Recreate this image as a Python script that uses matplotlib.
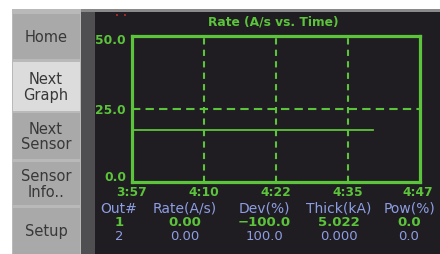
import matplotlib
matplotlib.use("Agg")
import matplotlib.pyplot as plt
from matplotlib.patches import Rectangle

# ---- data ----
title = "Rate (A/s vs. Time)"
t_start, t_end = 237, 287          # seconds (3:57 .. 4:47)
x_tick_labels = ["3:57", "4:10", "4:22", "4:35", "4:47"]
y_ticks = [0.0, 25.0, 50.0]
rate_time = [237, 278.8]
rate_vals = [17.8, 17.8]

buttons = ["Home", "Next\nGraph", "Next\nSensor", "Sensor\nInfo..", "Setup"]
headers = ["Out#", "Rate(A/s)", "Dev(%)", "Thick(kA)", "Pow(%)"]
row1 = ["1", "0.00", "\u2212100.0", "5.022", "0.0"]
row2 = ["2", "0.00", "100.0", "0.000", "0.0"]

GREEN = "#5cc43a"
LAV = "#8d9de2"
BG = "#1f1d22"

W, H = 440, 255
fig = plt.figure(figsize=(W / 100, H / 100), dpi=100)
fig.patch.set_facecolor("white")


def px(x, y):
    # pixel coords (top-left origin) -> figure fraction
    return x / W, 1 - y / H


def rect(x0, y0, x1, y1, color):
    fig.patches.append(Rectangle((x0 / W, 1 - y1 / H), (x1 - x0) / W, (y1 - y0) / H,
                                 transform=fig.transFigure, facecolor=color,
                                 edgecolor="none", zorder=-5))


# screen frame
rect(12, 10, W, 13, "#8a8a8a")
rect(12, 10, 81, H, "#b9b9b9")
rect(81, 13, 95, H, "#4f4f51")
rect(95, 13, W, H, BG)

# side buttons
btn_y = [(15, 60), (63, 112), (114, 160), (163, 206), (209, H)]
for i, (label, (y0, y1)) in enumerate(zip(buttons, btn_y)):
    col = "#dcdcdc" if i == 1 else "#a9a9a9"
    rect(13, y0, 80, y1, col)
    fx, fy = px(46, (y0 + y1) / 2)
    fig.text(fx, fy, label, ha="center", va="center", fontsize=10.5,
             color="#383838", linespacing=1.05)

# tiny red marks at the top
for xm in (116, 124):
    rect(xm, 15, xm + 2, 17, "#9a2a30")

# plot area
ax = fig.add_axes([132 / W, 1 - 183 / H, 288 / W, 146 / H], zorder=2)
ax.set_facecolor(BG)
ax.set_xlim(t_start, t_end)
ax.set_ylim(0, 50)
for s in ax.spines.values():
    s.set_color(GREEN)
    s.set_linewidth(2.3)
ax.set_xticks([])
ax.set_yticks([])

step = (t_end - t_start) / (len(x_tick_labels) - 1)
x_ticks = [t_start + i * step for i in range(len(x_tick_labels))]
for xt in x_ticks[1:-1]:
    ax.axvline(xt, color=GREEN, lw=1.5, ls=(0, (3, 2.5)))
ax.axhline(y_ticks[1], color=GREEN, lw=1.5, ls=(0, (4, 2.5)))
ax.plot(rate_time, rate_vals, color=GREEN, lw=1.3)

bold = dict(fontweight="bold", color=GREEN, fontsize=8.8)
fig.text(*px(273, 22), title, ha="center", va="center", **bold)
for yv, ypix in zip(y_ticks, [178, 110, 41]):
    fig.text(*px(126, ypix), f"{yv:.1f}", ha="right", va="center", **bold)
for xt, lab in zip(x_ticks, x_tick_labels):
    xpix = 132 + (xt - t_start) / (t_end - t_start) * 288
    xpix = min(xpix, 418)
    fig.text(*px(xpix, 193), lab, ha="center", va="center", **bold)

# readout table
col_x = [119, 185, 264, 339, 409]
for x, h, a, b in zip(col_x, headers, row1, row2):
    fig.text(*px(x, 209), h, ha="center", va="center", color=LAV, fontsize=10)
    fig.text(*px(x, 223), a, ha="center", va="center", color=GREEN,
             fontsize=9.5, fontweight="bold")
    fig.text(*px(x, 237), b, ha="center", va="center", color=LAV, fontsize=9.5)

fig.savefig("out.png", dpi=100, facecolor=fig.get_facecolor())
